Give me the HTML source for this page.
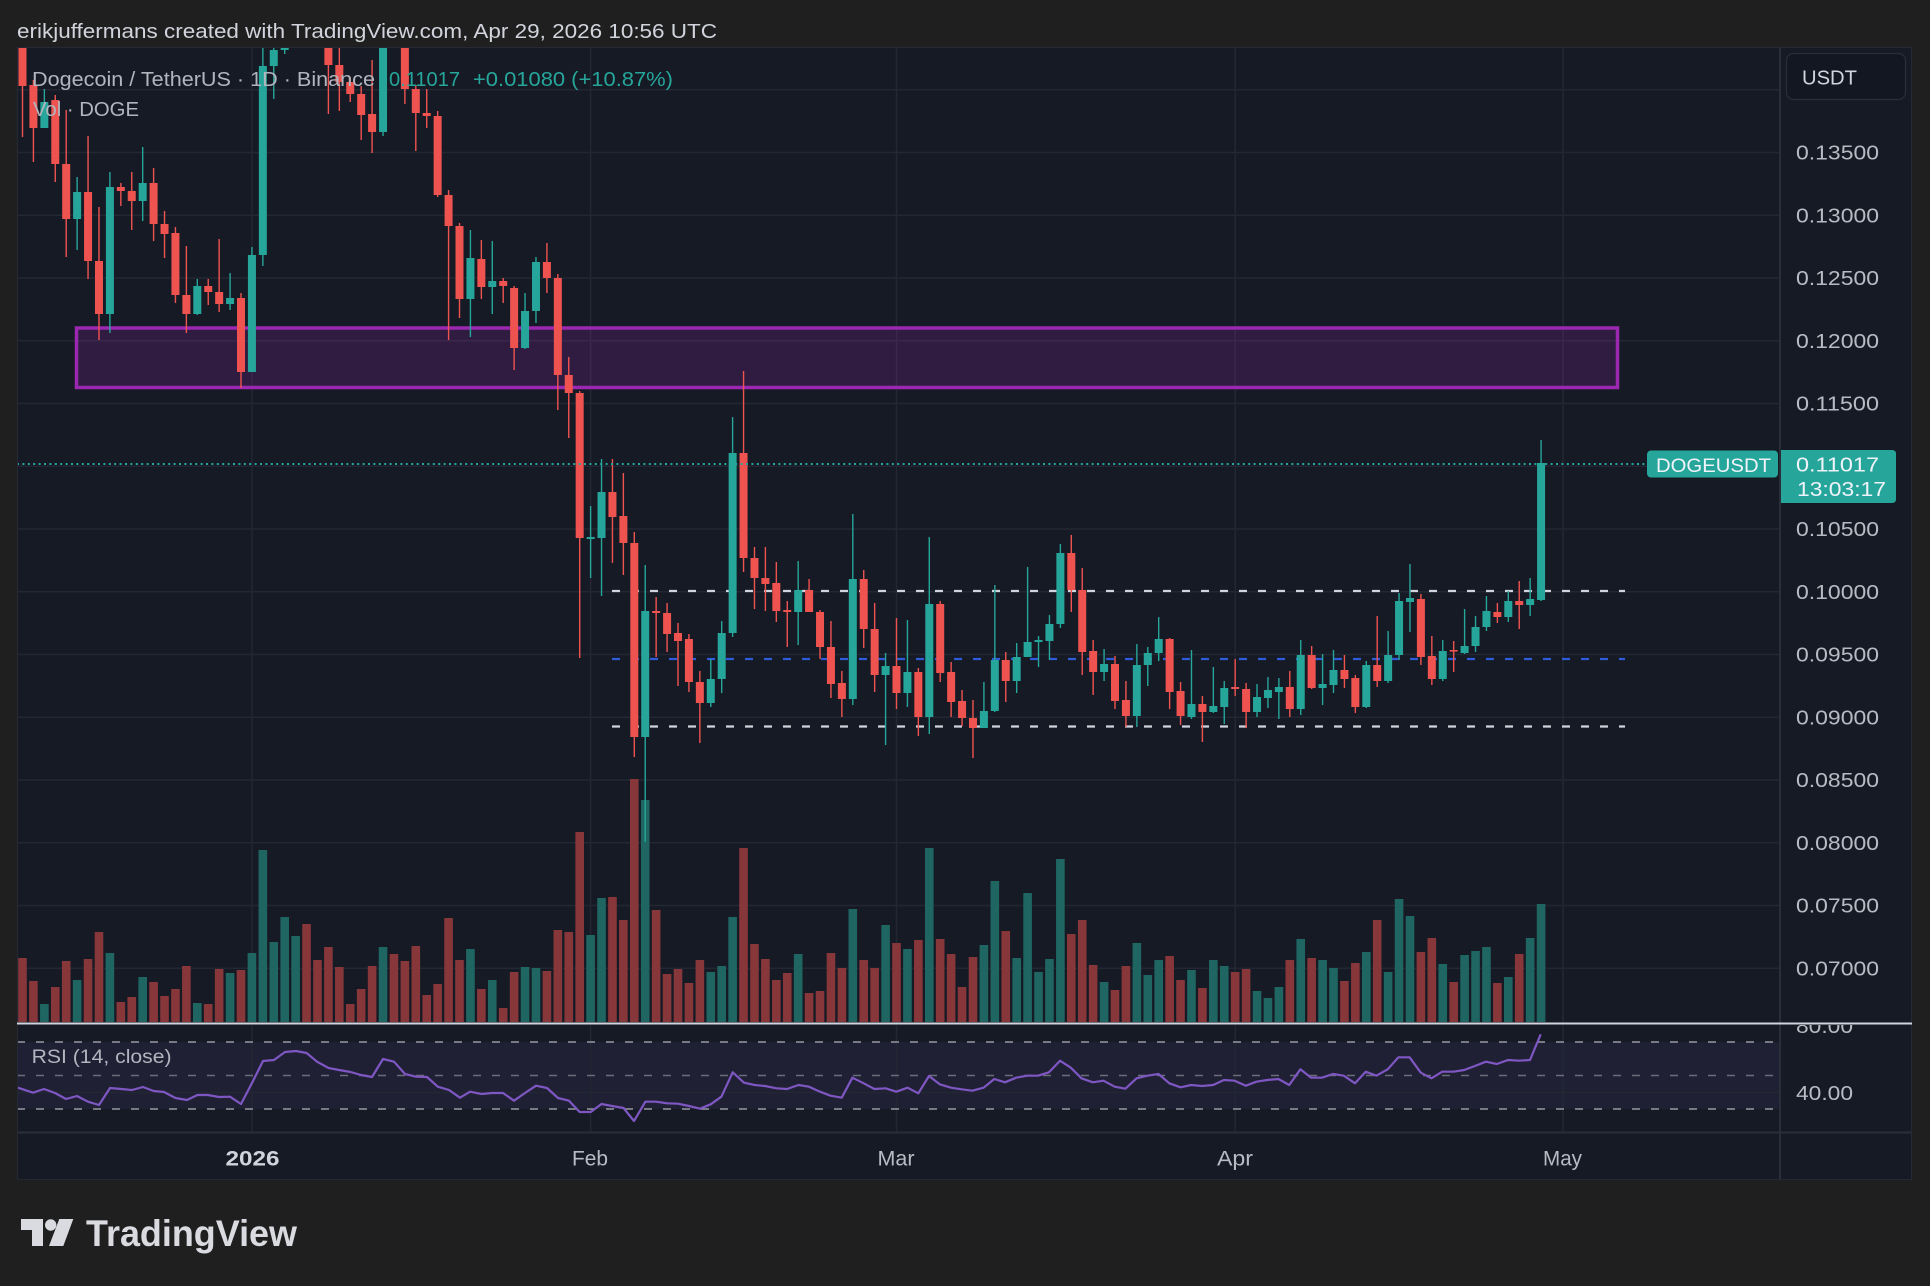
<!DOCTYPE html>
<html>
<head>
<meta charset="utf-8">
<style>
html,body{margin:0;padding:0;background:#1f1f1f;}
svg{display:block;}
text{font-family:"Liberation Sans",sans-serif;}
</style>
</head>
<body>
<svg id="s" xmlns="http://www.w3.org/2000/svg" width="1930" height="1286" viewBox="0 0 1930 1286">
<defs>
<clipPath id="mainclip"><rect x="17" y="47" width="1763" height="975.5"/></clipPath>
<clipPath id="rsiclip"><rect x="17" y="1025" width="1763" height="107"/></clipPath>
<clipPath id="rsiaxclip"><rect x="1781" y="1025" width="131" height="107"/></clipPath>
</defs>
<rect x="0" y="0" width="1930" height="1286" fill="#1f1f1f"/>
<text x="17" y="38" font-size="20.5" fill="#d1d4dc" textLength="700" lengthAdjust="spacingAndGlyphs">erikjuffermans created with TradingView.com, Apr 29, 2026 10:56 UTC</text>

<!-- chart background -->
<rect x="17" y="47" width="1895" height="1133" fill="#161a25"/>

<!-- grid -->
<g stroke="#232733" stroke-width="1.5" clip-path="url(#mainclip)">
<line x1="17" x2="1780" y1="89.75" y2="89.75"/>
<line x1="17" x2="1780" y1="152.5" y2="152.5"/>
<line x1="17" x2="1780" y1="215.25" y2="215.25"/>
<line x1="17" x2="1780" y1="278" y2="278"/>
<line x1="17" x2="1780" y1="340.75" y2="340.75"/>
<line x1="17" x2="1780" y1="403.5" y2="403.5"/>
<line x1="17" x2="1780" y1="466.25" y2="466.25"/>
<line x1="17" x2="1780" y1="529" y2="529"/>
<line x1="17" x2="1780" y1="591.75" y2="591.75"/>
<line x1="17" x2="1780" y1="654.5" y2="654.5"/>
<line x1="17" x2="1780" y1="717.25" y2="717.25"/>
<line x1="17" x2="1780" y1="780" y2="780"/>
<line x1="17" x2="1780" y1="842.75" y2="842.75"/>
<line x1="17" x2="1780" y1="905.5" y2="905.5"/>
<line x1="17" x2="1780" y1="968.25" y2="968.25"/>
<line x1="251.9" x2="251.9" y1="47" y2="1023"/>
<line x1="590.6" x2="590.6" y1="47" y2="1023"/>
<line x1="896.5" x2="896.5" y1="47" y2="1023"/>
<line x1="1235.2" x2="1235.2" y1="47" y2="1023"/>
<line x1="1563" x2="1563" y1="47" y2="1023"/>
</g>

<!-- purple zone -->
<rect x="76.5" y="328" width="1541" height="59.5" fill="rgba(156,39,176,0.2)" stroke="#9c27b0" stroke-width="3.5"/>

<!-- volume + candles -->
<g id="vols" clip-path="url(#mainclip)"></g>

<!-- horizontal levels -->
<g fill="none" stroke-width="2.2" stroke-dasharray="8 11">
<line x1="612" x2="1625" y1="591" y2="591" stroke="#d1d4dc"/>
<line x1="612" x2="1625" y1="726.5" y2="726.5" stroke="#d1d4dc"/>
<line x1="612" x2="1625" y1="659" y2="659" stroke="#2f5bd8"/>
</g>

<g id="candles" clip-path="url(#mainclip)"></g>

<!-- current price dotted line -->
<line x1="17" x2="1647" y1="464" y2="464" stroke="#26a69a" stroke-width="2" stroke-dasharray="2 3.4"/>

<!-- legend -->
<text x="32" y="86" font-size="20" fill="#b2b5be" textLength="343" lengthAdjust="spacingAndGlyphs">Dogecoin / TetherUS · 1D · Binance</text>
<text x="389" y="86" font-size="20" fill="#26a69a" textLength="71" lengthAdjust="spacingAndGlyphs">0.11017</text>
<text x="473" y="86" font-size="20" fill="#26a69a" textLength="200" lengthAdjust="spacingAndGlyphs">+0.01080 (+10.87%)</text>
<text x="33" y="116" font-size="20" fill="#b2b5be" textLength="106" lengthAdjust="spacingAndGlyphs">Vol · DOGE</text>

<!-- RSI pane -->
<rect x="17" y="1042" width="1763" height="67" fill="rgba(126,87,194,0.1)"/>
<g stroke="#232733" stroke-width="1.5">
<line x1="251.9" x2="251.9" y1="1025" y2="1132"/>
<line x1="590.6" x2="590.6" y1="1025" y2="1132"/>
<line x1="896.5" x2="896.5" y1="1025" y2="1132"/>
<line x1="1235.2" x2="1235.2" y1="1025" y2="1132"/>
<line x1="1563" x2="1563" y1="1025" y2="1132"/>
<line x1="17" x2="1780" y1="1092.5" y2="1092.5"/>
</g>
<g fill="none" stroke-width="1.6" stroke-dasharray="8 11">
<line x1="17" x2="1780" y1="1042" y2="1042" stroke="#9598a1"/>
<line x1="17" x2="1780" y1="1075.5" y2="1075.5" stroke="#6a6d78"/>
<line x1="17" x2="1780" y1="1109" y2="1109" stroke="#9598a1"/>
</g>
<polyline clip-path="url(#rsiclip)" fill="none" stroke="#7e57c2" stroke-width="2.2" stroke-linejoin="round" points="17.9,1087.7 33,1092.7 44,1089 55,1093 66,1099 77,1096 88,1101.7 99,1105 110,1088 121,1089 132,1090 143,1087 153.6,1091 164,1092 175.5,1098 187,1100 197.4,1095 208,1095 219,1097 230,1096.7 241,1104 252,1083 263,1061 274,1060 285,1052 296,1051 306.6,1053 317,1061.7 328.6,1068 339,1070 350.5,1072 361,1075 372,1077 383,1059 394,1061.7 405,1074 416,1076.7 427,1077 437.8,1086.7 449,1090 460,1097.7 470,1091.7 481.6,1094 492,1093 503,1093 514,1100.7 525,1093 536,1085.7 547,1088 558,1098 569,1100.7 579.6,1112 590.8,1112 601.5,1104 612,1106 623.5,1108 634,1121 645.4,1101.7 656,1101.7 667,1103.3 678,1103.7 689,1106 700,1108.7 710.7,1104.3 721.4,1096.7 732.7,1072.3 744,1082.7 754.6,1085 765,1086 776.5,1088.3 787,1089 798.5,1085 809,1086.7 820,1091.7 830.5,1095.7 841.7,1097.7 852.4,1077.7 863.7,1083.3 874.4,1089 885.6,1088.3 896.3,1091.7 907.6,1087.7 918.3,1093.3 929,1076 939.7,1084.3 951,1087.7 961.6,1089.3 972.3,1090.7 983.6,1087.7 994.3,1079 1005,1082.3 1016.2,1077.7 1027,1075.7 1038,1075.7 1049,1072.3 1060,1060.7 1070.8,1067.7 1081.5,1078.3 1092.8,1082.3 1103.5,1080.7 1114.7,1086.7 1125.4,1088.7 1136.6,1078.3 1147.3,1075.7 1158.6,1074 1169.3,1083.3 1180.5,1087.3 1191.2,1085 1202,1086 1213.2,1085 1223.9,1080 1234.6,1080.7 1245.8,1085.7 1256.5,1081.7 1267.2,1080 1278.5,1079 1289.2,1085 1300.4,1069.3 1311.1,1077.7 1321.8,1077.7 1333,1074 1343.8,1075.7 1355,1083.3 1365.7,1071.7 1376.4,1075.7 1387.7,1069.3 1398.4,1057.3 1409.6,1057.3 1420.8,1072.7 1431.5,1078.3 1442.2,1071.7 1453.5,1071.7 1464.2,1070 1474.9,1066 1486,1061.7 1496.8,1064 1508,1060 1518.8,1060.7 1530,1060 1540.7,1034.3"/>
<text x="31.6" y="1063" font-size="19.5" fill="#b2b5be" textLength="140" lengthAdjust="spacingAndGlyphs">RSI (14, close)</text>

<!-- borders -->
<line x1="1780" x2="1780" y1="47" y2="1180" stroke="#2a2e39" stroke-width="2"/>
<line x1="17" x2="1912" y1="1132.5" y2="1132.5" stroke="#2a2e39" stroke-width="2"/>
<rect x="17.5" y="47.5" width="1894" height="1132" fill="none" stroke="#252935" stroke-width="1"/>
<line x1="17" x2="1912" y1="1023.5" y2="1023.5" stroke="#d1d4dc" stroke-width="2"/>

<!-- price axis labels -->
<g font-size="20" fill="#b8bbc3">
<text x="1796" y="159.5" textLength="83" lengthAdjust="spacingAndGlyphs">0.13500</text>
<text x="1796" y="222.25" textLength="83" lengthAdjust="spacingAndGlyphs">0.13000</text>
<text x="1796" y="285" textLength="83" lengthAdjust="spacingAndGlyphs">0.12500</text>
<text x="1796" y="347.75" textLength="83" lengthAdjust="spacingAndGlyphs">0.12000</text>
<text x="1796" y="410.5" textLength="83" lengthAdjust="spacingAndGlyphs">0.11500</text>
<text x="1796" y="536" textLength="83" lengthAdjust="spacingAndGlyphs">0.10500</text>
<text x="1796" y="598.75" textLength="83" lengthAdjust="spacingAndGlyphs">0.10000</text>
<text x="1796" y="661.5" textLength="83" lengthAdjust="spacingAndGlyphs">0.09500</text>
<text x="1796" y="724.25" textLength="83" lengthAdjust="spacingAndGlyphs">0.09000</text>
<text x="1796" y="787" textLength="83" lengthAdjust="spacingAndGlyphs">0.08500</text>
<text x="1796" y="849.75" textLength="83" lengthAdjust="spacingAndGlyphs">0.08000</text>
<text x="1796" y="912.5" textLength="83" lengthAdjust="spacingAndGlyphs">0.07500</text>
<text x="1796" y="975.25" textLength="83" lengthAdjust="spacingAndGlyphs">0.07000</text>
<text x="1796" y="1100" textLength="57" lengthAdjust="spacingAndGlyphs">40.00</text>
<text x="1796" y="1033" textLength="57" lengthAdjust="spacingAndGlyphs" clip-path="url(#rsiaxclip)">80.00</text>
</g>

<!-- USDT box -->
<rect x="1786.5" y="53.5" width="119" height="46" rx="7" fill="#131722" stroke="#2a2e39" stroke-width="1.2"/>
<text x="1802" y="84.5" font-size="20" fill="#d1d4dc" textLength="55" lengthAdjust="spacingAndGlyphs">USDT</text>

<!-- current price labels -->
<rect x="1647" y="450.5" width="131" height="27" rx="4" fill="#26a69a"/>
<text x="1656" y="472" font-size="19.5" fill="#f0f3fa" textLength="115" lengthAdjust="spacingAndGlyphs">DOGEUSDT</text>
<path d="M1781,450 H1892 Q1896,450 1896,454 V499 Q1896,503 1892,503 H1781 Z" fill="#26a69a"/>
<text x="1796" y="471.5" font-size="20" fill="#f0f3fa" textLength="83" lengthAdjust="spacingAndGlyphs">0.11017</text>
<text x="1797" y="496" font-size="20" fill="#f0f3fa" textLength="89" lengthAdjust="spacingAndGlyphs">13:03:17</text>

<!-- time axis -->
<text x="225.5" y="1165.5" font-size="21" font-weight="bold" fill="#d1d4dc" textLength="54" lengthAdjust="spacingAndGlyphs">2026</text>
<text x="572" y="1165.5" font-size="21" fill="#b8bbc3" textLength="36" lengthAdjust="spacingAndGlyphs">Feb</text>
<text x="877.5" y="1165.5" font-size="21" fill="#b8bbc3" textLength="37" lengthAdjust="spacingAndGlyphs">Mar</text>
<text x="1217" y="1165.5" font-size="21" fill="#b8bbc3" textLength="36" lengthAdjust="spacingAndGlyphs">Apr</text>
<text x="1543" y="1165.5" font-size="21" fill="#b8bbc3" textLength="39" lengthAdjust="spacingAndGlyphs">May</text>

<!-- TradingView logo -->
<g fill="#d9dbe0">
<path d="M21,1219 H43 V1246 H32 V1230 H21 Z"/>
<circle cx="50.7" cy="1225" r="5.7"/>
<path d="M59.3,1219 H73.3 L63.3,1246 H49 Z"/>
<text x="86" y="1246" font-size="37" font-weight="bold" textLength="211" lengthAdjust="spacingAndGlyphs">TradingView</text>
</g>
</svg>
<script>
(function(){
var NS='http://www.w3.org/2000/svg';
var C=[
['r',30,86,30,137],['r',85,128,80,162],['g',102,128,89,128],['r',100,164,95,182],['r',164,219,110,257],
['g',192,219,177,250],['r',192,261,136,279],['r',261,314,207,340],['g',187,314,172,333],['r',187,191,183,206],
['r',191,201,172,230],['g',183,201,147,221],['r',183,224,168,241],['r',224,234,211,258],['r',233,295,227,303],
['r',295,314,246,333],['g',286,314,279,315],['r',286,292,279,305],['r',292,304,239,312],['g',298,304,273,310],
['r',298,372,293,388],['g',255,372,247,372],['g',66,255,30,266],['g',50,66,30,99],['g',44,50,30,54],
null,null,null,
['r',30,65,30,114],['r',65,82,30,111],['r',82,94,77,102],['r',94,115,86,140],['r',114,132,60,153],
['g',30,132,30,136],null,['r',30,89,30,104],['r',89,113,85,151],['r',113,116,89,128],
['r',116,195,111,197],['r',195,226,190,340],['r',226,299,223,318],['g',258,299,230,337],['r',259,287,240,299],
['g',281,287,241,314],['r',281,286,278,303],['r',288,348,286,370],['g',311,348,293,349],['g',262,311,257,323],
['r',262,278,243,293],['r',278,375,274,410],['r',375,393,357,438],['r',393,538,391,658],['g',537,539,506,578],
['g',492,538,459,596],['r',492,517,459,563],['r',516,543,473,575],['r',543,737,532,757],['g',611,737,565,842],
['r',611,613,597,657],['r',613,634,603,652],['r',633,641,623,686],['r',639,682,634,692],['r',682,703,671,743],
['g',679,703,659,707],['g',633,679,621,693],['g',453,633,417,637],['r',453,558,371,572],['r',558,578,547,609],
['r',578,584,547,611],['r',583,611,562,622],['r',610,612,601,647],['g',590,612,561,645],['r',590,612,579,612],
['r',612,647,610,659],['r',647,684,621,698],['r',683,699,671,717],['g',579,699,514,705],['r',579,629,570,648],
['r',629,675,603,692],['g',666,675,653,745],['r',666,693,618,709],['g',672,693,620,707],['r',672,717,668,736],
['g',604,717,537,734],['r',604,673,601,682],['r',672,702,662,717],['r',701,718,690,726],['r',718,728,700,758],
['g',711,728,682,728],['g',660,711,585,712],['r',660,681,652,702],['g',657,681,643,693],['g',642,657,567,657],
['g',640,642,636,667],['g',624,641,615,660],['g',553,624,544,628],['r',553,590,535,612],['r',590,652,568,675],
['r',651,672,640,695],['g',664,672,649,681],['r',664,701,656,709],['r',700,716,681,727],['g',665,716,644,727],
['g',653,665,647,686],['g',639,653,617,661],['r',639,692,638,709],['r',691,716,682,725],['g',704,717,650,719],
['r',704,712,696,742],['g',706,712,667,713],['g',688,707,681,724],['r',687,689,659,696],['r',689,712,683,728],
['g',697,712,684,717],['g',690,698,677,708],['g',687,692,678,719],['r',687,709,671,717],['g',655,709,640,715],
['r',655,688,646,689],['g',684,688,654,705],['g',670,685,650,693],['r',670,679,655,688],['r',678,707,675,713],
['g',665,707,661,708],['r',665,681,616,687],['g',655,681,631,683],['g',601,655,593,660],['g',598,602,564,632],
['r',599,657,594,665],['r',656,679,636,685],['g',651,679,640,681],['r',650,651,641,672],['g',646,653,609,654],
['g',627,646,616,652],['g',611,627,596,631],['r',612,617,603,623],['g',601,617,591,622],['r',601,605,581,629],
['g',599,605,578,616],['g',463,600,440,601]
];
var V="r958 r981 g1004 r987 r961 g980 r959 r932 g953 r1002 r997 g977 r982 r996 r989 r966 g1003 r1004 r969 g973 r970 g953 g850 g942 g917 g936 r924 r960 r947 r967 r1004 r989 r966 g947 r954 r961 r946 r995 r984 r918 r960 g949 r989 g980 r1008 r972 g967 g968 r971 r930 r932 r832 g935 g898 r897 r920 r779 g800 r910 r974 r969 r983 r960 g972 g966 g917 r848 r944 r959 r980 r973 g954 r993 r991 r953 r968 g909 r960 r968 g925 r943 g949 r940 g848 r939 r954 r987 r957 g945 g881 r931 g958 g893 g972 g959 g859 r934 r920 r965 g982 r990 r966 g943 g975 g960 r956 r980 g970 r988 g960 g966 r972 r969 g991 g998 g987 r960 g939 r958 g960 g968 r981 r963 g952 r920 g972 g899 g916 r952 r938 g964 r982 g955 g951 g947 r983 g977 r954 g938 g904".split(' ');
var gc=document.getElementById('candles'),gv=document.getElementById('vols');
function el(t,a,p){var e=document.createElementNS(NS,t);for(var k in a)e.setAttribute(k,a[k]);p.appendChild(e);return e;}
var i,x;
for(i=0;i<V.length;i++){
  x=22.5+i*10.925;
  var col=V[i].charAt(0)=='g'?'#1f6662':'#87363a';
  var top=parseFloat(V[i].substring(1));
  el('rect',{x:(x-4.3).toFixed(2),y:top,width:8.6,height:(1022-top).toFixed(2),fill:col},gv);
}
for(i=0;i<C.length;i++){
  var c=C[i]; if(!c) continue;
  x=22.5+i*10.925;
  var cl=c[0]=='g'?'#26a69a':'#ef5350';
  el('rect',{x:(x-0.7).toFixed(2),y:c[3],width:1.4,height:Math.max(c[4]-c[3],1),fill:cl},gc);
  var h=Math.max(c[2]-c[1],1.6);
  el('rect',{x:(x-4).toFixed(2),y:c[1],width:8,height:h,fill:cl},gc);
}
})();
</script>
</body>
</html>
